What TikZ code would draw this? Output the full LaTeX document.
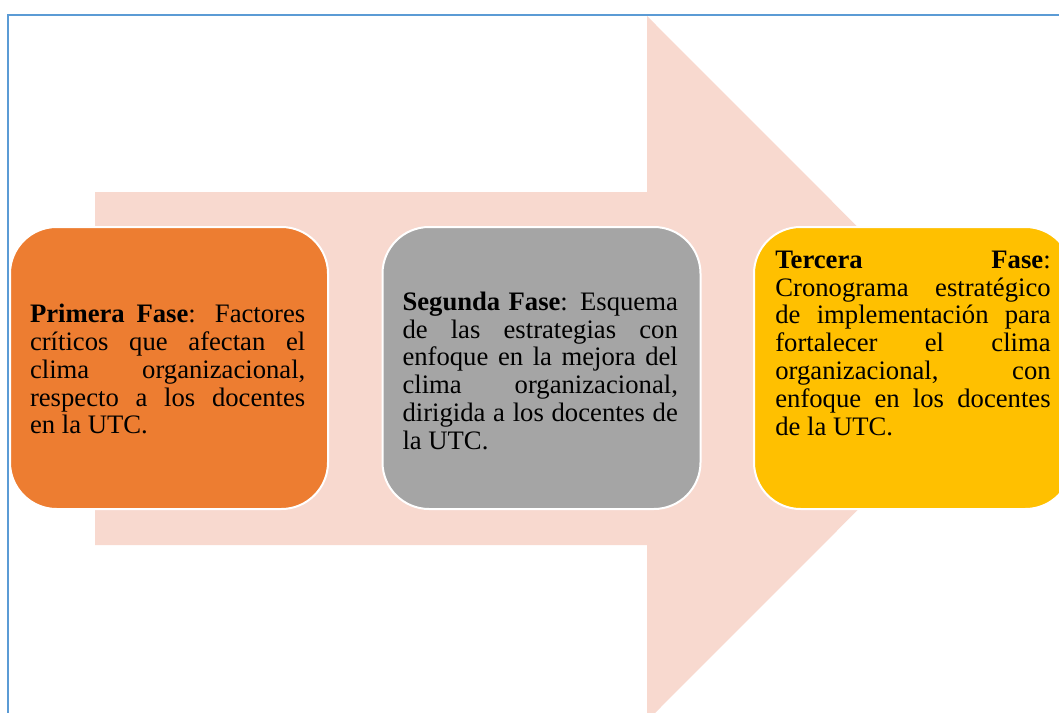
\documentclass[tikz,border=0pt]{standalone}
\usepackage{fontspec}
\setmainfont{Liberation Serif}
\usetikzlibrary{positioning}

\definecolor{arrowpink}{HTML}{F8D9CF}
\definecolor{frameblue}{HTML}{5B9BD5}
\definecolor{phaseone}{HTML}{ED7D31}
\definecolor{phasetwo}{HTML}{A5A5A5}
\definecolor{phasethree}{HTML}{FFC000}

\tikzset{
  phasebox/.style={draw=white, line width=1.5pt, rounded corners=35pt,
    minimum width=238.5pt, minimum height=211.5pt, inner sep=0pt},
  phasetext/.style={text width=206.5pt, align=justify, inner sep=0pt,
    font=\fontsize{20}{20.85}\selectfont}
}

\begin{document}
\begin{tikzpicture}[x=0.75pt, y=-0.75pt]
  \useasboundingbox (0,0) rectangle (1059,713);
  \clip (0,0) rectangle (1059,713);

  % Draw big arrow behind the phases
  \fill[arrowpink] (95,192) -- (647,192) -- (647,16) -- (999,368.5)
    -- (647,721) -- (647,545) -- (95,545) -- cycle;

  % Draw frame
  \draw[frameblue, line width=1.1pt] (1100,15) -- (8,15) -- (8,760);

  % Draw phase boxes
  \node[phasebox, fill=phaseone] (B1) at (169,368) {};
  \node[phasebox, fill=phasetwo] (B2) at (541.5,368) {};
  \node[phasebox, fill=phasethree] (B3) at (913,368) {};

  % Texts of the phases
  \node[phasetext] (T1) at ([xshift=-1pt, yshift=-1pt]B1.center)
    {\textbf{Primera Fase}: Factores\linebreak críticos que afectan el\linebreak
     clima organizacional,\linebreak respecto a los docentes\linebreak en la UTC.};
  \node[phasetext] (T2) at ([xshift=-1pt, yshift=-2pt]B2.center)
    {\textbf{Segunda Fase}: Esquema\linebreak de las estrategias con\linebreak
     enfoque en la mejora del\linebreak clima organizacional,\linebreak
     dirigida a los docentes de\linebreak la UTC.};
  \node[phasetext, anchor=north] (T3) at ([yshift=-18.5pt]B3.north)
    {\textbf{Tercera Fase}:\linebreak Cronograma estratégico\linebreak
     de implementación para\linebreak fortalecer el clima\linebreak
     organizacional, con\linebreak enfoque en los docentes\linebreak de la UTC.};

\end{tikzpicture}
\end{document}
